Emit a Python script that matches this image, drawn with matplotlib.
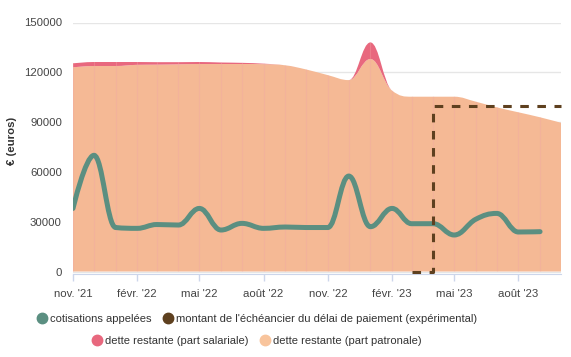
import numpy as np
import pandas as pd
import matplotlib
matplotlib.use("Agg")
import matplotlib.pyplot as plt
import matplotlib.dates as mdates
from matplotlib.path import Path
from matplotlib.patches import PathPatch
from matplotlib.lines import Line2D

plt.rcParams['font.family'] = ['Liberation Sans', 'DejaVu Sans']

# monthly data, nov. 2021 -> oct. 2023
months = pd.date_range('2021-11-01', periods=24, freq='MS')

cotisations = [38000, 70000, 26500, 26000, 28300, 28000, 38000, 25000, 29000, 26000,
               26800, 26500, 26500, 57500, 27000, 38000, 28800, 28800, 22000, 31500,
               35000, 23800, 24000]

part_patronale = [123000, 123800, 123800, 124500, 124600, 124800, 125000, 125000, 125000, 124900,
                  124200, 121700, 118300, 115300, 128000, 109000, 105300, 105300, 105300, 102300,
                  98900, 95900, 92900, 89600]
part_salariale = [2400, 2400, 2400, 1700, 1500, 1300, 1200, 900, 700, 300,
                  0, 0, 0, 0, 10000, 0, 0, 0, 0, 0,
                  0, 0, 0, 0]

# échéancier: starts at 0 in mars '23, then 100000
echeancier_start = 16
echeancier = [0, 100000, 100000, 100000, 100000, 100000, 100000, 100000]

xtick_labels = ["nov. '21", "févr. '22", "mai '22", "août '22",
                "nov. '22", "févr. '23", "mai '23", "août '23"]

C_TEAL = '#5b8f81'
C_BROWN = '#5e401f'
C_RED = '#e8687e'
C_PEACH = '#f5b995'


def spline(xs, ys, smoothing=1.5):
    # highcharts-like spline, returns bezier vertices
    n = len(xs)
    denom = smoothing + 1
    left, right = [None] * n, [None] * n
    for i in range(n):
        x, y = xs[i], ys[i]
        if 0 < i < n - 1:
            lx, ly = xs[i - 1], ys[i - 1]
            nx, ny = xs[i + 1], ys[i + 1]
            lcx = (smoothing * x + lx) / denom
            lcy = (smoothing * y + ly) / denom
            rcx = (smoothing * x + nx) / denom
            rcy = (smoothing * y + ny) / denom
            corr = (rcy - lcy) * (rcx - x) / (rcx - lcx) + y - rcy
            lcy += corr
            rcy += corr
            if lcy > ly and lcy > y:
                lcy = max(ly, y); rcy = 2 * y - lcy
            elif lcy < ly and lcy < y:
                lcy = min(ly, y); rcy = 2 * y - lcy
            if rcy > ny and rcy > y:
                rcy = max(ny, y); lcy = 2 * y - rcy
            elif rcy < ny and rcy < y:
                rcy = min(ny, y); lcy = 2 * y - rcy
            left[i] = (lcx, lcy)
            right[i] = (rcx, rcy)
        else:
            left[i] = right[i] = (x, y)
    verts = [(xs[0], ys[0])]
    for i in range(1, n):
        verts += [right[i - 1], left[i], (xs[i], ys[i])]
    return verts


def area_path(top, bottom):
    verts = top + bottom[::-1] + [top[0]]
    codes = ([Path.MOVETO] + [Path.CURVE4] * (len(top) - 1) +
             [Path.LINETO] + [Path.CURVE4] * (len(bottom) - 1) + [Path.CLOSEPOLY])
    return Path(verts, codes)


xnum = mdates.date2num(months)
patr = np.array(part_patronale, dtype=float)
total = patr + np.array(part_salariale, dtype=float)

top_patr = spline(list(xnum), list(patr))
top_total = spline(list(xnum), list(total))
zero_line = [(xnum[0], 0), (xnum[0], 0), (xnum[-1], 0), (xnum[-1], 0)]

fig = plt.figure(figsize=(5.71, 3.57), dpi=100)
ax = fig.add_axes([73 / 571, 83 / 357, 488 / 571, 251.5 / 357])

ax.set_xlim(xnum[0], xnum[-1])
ax.set_ylim(-1500, 150000)

# gridlines
for v in range(0, 150001, 30000):
    ax.axhline(v, color='#e6e6e6', lw=1, zorder=0)

p_patr = area_path(top_patr, zero_line)
p_sal = area_path(top_total, top_patr)
p_all = area_path(top_total, zero_line)
ax.add_patch(PathPatch(p_patr, facecolor=C_PEACH, edgecolor='none', zorder=2))
ax.add_patch(PathPatch(p_sal, facecolor=C_RED, edgecolor='none', zorder=2))

# faint monthly lines inside the area
for xv in xnum:
    ln = ax.axvline(xv, color='#f2a6a6', lw=0.8, alpha=0.35, zorder=3)
    ln.set_clip_path(p_all, ax.transData)

# cotisations appelées
cv = spline(list(xnum[:len(cotisations)]), cotisations)
ax.add_patch(PathPatch(Path(cv, [Path.MOVETO] + [Path.CURVE4] * (len(cv) - 1)),
                       facecolor='none', edgecolor=C_TEAL, lw=3.6, zorder=5,
                       capstyle='round', joinstyle='round'))

# échéancier
ax.step(xnum[echeancier_start:], echeancier, where='post', color=C_BROWN,
        lw=2.2, dashes=(2.8, 2.8), zorder=6, clip_on=False)

ax.set_xticks(xnum[::3])
ax.set_xticklabels(xtick_labels)
ax.set_yticks(range(0, 150001, 30000))
ax.tick_params(axis='x', length=5, width=1, color='#ccd6eb', pad=6,
               labelsize=8.2, labelcolor='#444444')
ax.tick_params(axis='y', length=0, pad=8, labelsize=8.2, labelcolor='#444444')
for s in ['top', 'right', 'left']:
    ax.spines[s].set_visible(False)
ax.spines['bottom'].set_color('#ccd6eb')

fig.text(12 / 571, (357 - 141) / 357, '€ (euros)', rotation=90, ha='center', va='center',
         fontsize=8.2, fontweight='bold', color='#333333')


def handle(c):
    return Line2D([], [], ls='none', marker='o', markersize=7.5,
                  markerfacecolor=c, markeredgecolor=c)


kw = dict(frameon=False, fontsize=8.0, handlelength=0.9, handletextpad=0.3,
          columnspacing=1.0, borderpad=0, labelcolor='#333333', loc='center')
leg1 = fig.legend([handle(C_TEAL), handle(C_BROWN)],
                  ['cotisations appelées',
                   "montant de l'échéancier du délai de paiement (expérimental)"],
                  ncol=2, bbox_to_anchor=(257 / 571, (357 - 319) / 357), **kw)
leg2 = fig.legend([handle(C_RED), handle('#f8c49c')],
                  ['dette restante (part salariale)', 'dette restante (part patronale)'],
                  ncol=2, bbox_to_anchor=(257 / 571, (357 - 341) / 357), **kw)

fig.savefig('out.png', dpi=100)
